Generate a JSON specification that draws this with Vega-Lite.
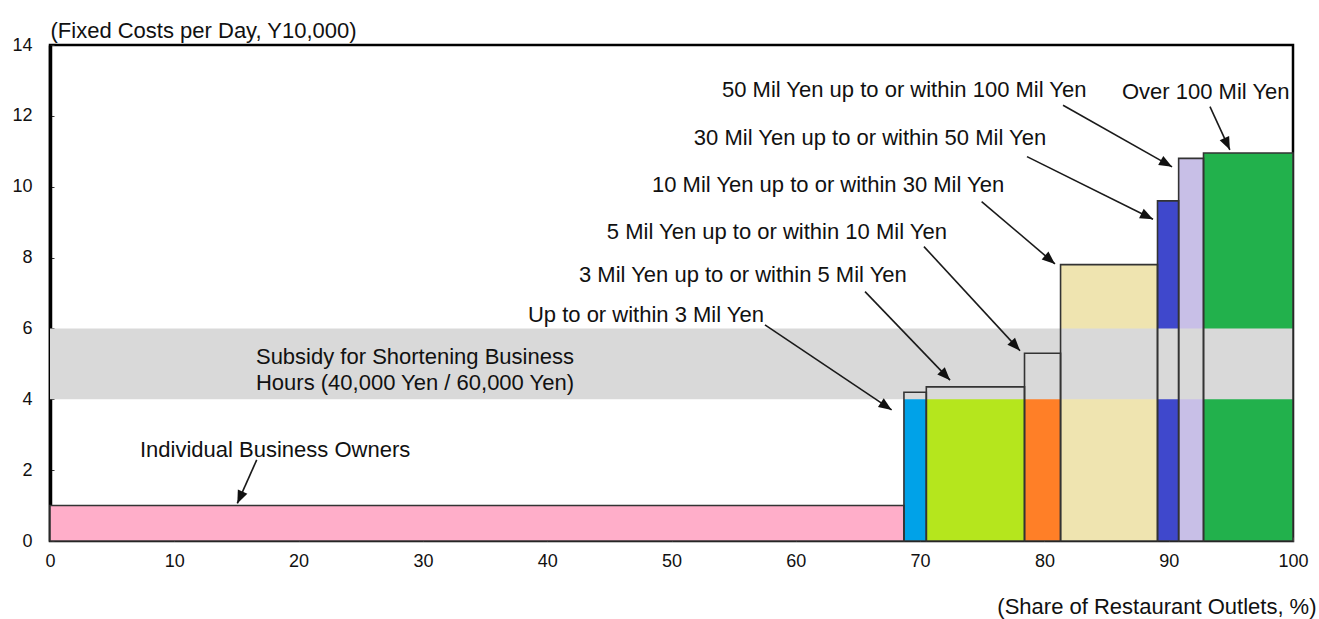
{
  "$schema": "https://vega.github.io/schema/vega-lite/v6.json",
  "width": 1243,
  "height": 496,
  "autosize": {"type": "none"},
  "padding": {"left": 50, "top": 45, "right": 26, "bottom": 78},
  "background": "white",
  "config": {
    "font": "Liberation Sans",
    "view": {"stroke": "#000", "strokeWidth": 2.5},
    "axis": {
      "grid": false,
      "domain": false,
      "labelFont": "Liberation Sans",
      "labelColor": "#111",
      "labelFontSize": 18,
      "titleFont": "Liberation Sans",
      "titleFontSize": 22,
      "titleFontWeight": "normal",
      "titleColor": "#111"
    }
  },
  "datasets": {
    "bars": [
      {"group": "Individual", "x0": 0, "x1": 68.7, "cost": 1.0},
      {"group": "to 3M", "x0": 68.7, "x1": 70.5, "cost": 4.2},
      {"group": "3M-5M", "x0": 70.5, "x1": 78.4, "cost": 4.35},
      {"group": "5M-10M", "x0": 78.4, "x1": 81.3, "cost": 5.3},
      {"group": "10M-30M", "x0": 81.3, "x1": 89.1, "cost": 7.8},
      {"group": "30M-50M", "x0": 89.1, "x1": 90.8, "cost": 9.6},
      {"group": "50M-100M", "x0": 90.8, "x1": 92.8, "cost": 10.8},
      {"group": "over 100M", "x0": 92.8, "x1": 100, "cost": 10.95}
    ],
    "band": [
      {"from": 0, "to": 100, "lo": 4, "hi": 6}
    ],
    "arrows": [
      {"tx": 16.63, "ty": 2.29, "hx": 15.07, "hy": 1.06},
      {"tx": 57.52, "ty": 6.10, "hx": 67.71, "hy": 3.70},
      {"tx": 65.57, "ty": 7.04, "hx": 72.41, "hy": 4.54},
      {"tx": 70.31, "ty": 8.31, "hx": 78.04, "hy": 5.37},
      {"tx": 74.95, "ty": 9.58, "hx": 80.85, "hy": 7.82},
      {"tx": 78.60, "ty": 10.85, "hx": 88.74, "hy": 9.08},
      {"tx": 81.50, "ty": 12.30, "hx": 90.27, "hy": 10.56},
      {"tx": 93.32, "ty": 12.26, "hx": 94.92, "hy": 11.04}
    ],
    "labels": [
      {"text": "50 Mil Yen up to or within 100 Mil Yen", "x": 54.06, "y": 12.73},
      {"text": "Over 100 Mil Yen", "x": 86.24, "y": 12.68},
      {"text": "30 Mil Yen up to or within 50 Mil Yen", "x": 51.8, "y": 11.37},
      {"text": "10 Mil Yen up to or within 30 Mil Yen", "x": 48.43, "y": 10.05},
      {"text": "5 Mil Yen up to or within 10 Mil Yen", "x": 44.8, "y": 8.73},
      {"text": "3 Mil Yen up to or within 5 Mil Yen", "x": 42.56, "y": 7.51},
      {"text": "Up to or within 3 Mil Yen", "x": 38.45, "y": 6.38},
      {"text": "Subsidy for Shortening Business", "x": 16.57, "y": 5.19},
      {"text": "Hours (40,000 Yen / 60,000 Yen)", "x": 16.57, "y": 4.46},
      {"text": "Individual Business Owners", "x": 7.24, "y": 2.57}
    ]
  },
  "layer": [
    {
      "data": {"name": "bars"},
      "mark": {"type": "rect", "strokeWidth": 0},
      "encoding": {
        "x": {
          "field": "x0", "type": "quantitative",
          "scale": {"domain": [0, 100], "nice": false},
          "axis": {
            "values": [0, 10, 20, 30, 40, 50, 60, 70, 80, 90, 100],
            "tickSize": -4, "tickColor": "#888", "tickWidth": 1,
            "labelPadding": 15,
            "labelFlush": false,
            "title": "(Share of Restaurant Outlets, %)",
            "titleAnchor": "start", "titleAlign": "right", "titleBaseline": "middle",
            "titleX": 1266, "titleY": 65
          }
        },
        "x2": {"field": "x1"},
        "y": {
          "field": "cost", "type": "quantitative",
          "scale": {"domain": [0, 14], "nice": false},
          "axis": {
            "values": [0, 2, 4, 6, 8, 10, 12, 14],
            "domain": true, "domainColor": "#000", "domainWidth": 3.5,
            "tickSize": -4, "tickColor": "#333", "tickWidth": 1,
            "labelPadding": 22,
            "labelFlush": false,
            "title": "(Fixed Costs per Day, Y10,000)",
            "titleAngle": 0, "titleAnchor": "start", "titleAlign": "left", "titleBaseline": "middle",
            "titleX": 0, "titleY": -15
          }
        },
        "y2": {"datum": 0},
        "color": {
          "field": "group", "type": "nominal", "legend": null,
          "scale": {
            "domain": ["Individual", "to 3M", "3M-5M", "5M-10M", "10M-30M", "30M-50M", "50M-100M", "over 100M"],
            "range": ["#ffaec9", "#00a2e8", "#b5e61d", "#ff7f27", "#efe4b0", "#3f48cc", "#c8bfe7", "#22b14c"]
          }
        }
      }
    },
    {
      "data": {"name": "band"},
      "mark": {"type": "rect", "color": "#d9d9d9", "opacity": 1},
      "encoding": {
        "x": {"field": "from", "type": "quantitative"},
        "x2": {"field": "to"},
        "y": {"field": "lo", "type": "quantitative"},
        "y2": {"field": "hi"}
      }
    },
    {
      "data": {"name": "bars"},
      "mark": {"type": "rect", "fillOpacity": 0, "stroke": "#333", "strokeWidth": 1.6},
      "encoding": {
        "x": {"field": "x0", "type": "quantitative"},
        "x2": {"field": "x1"},
        "y": {"field": "cost", "type": "quantitative"},
        "y2": {"datum": 0}
      }
    },
    {
      "data": {"name": "arrows"},
      "mark": {"type": "rule", "color": "#1a1a1a", "strokeWidth": 1.6},
      "encoding": {
        "x": {"field": "tx", "type": "quantitative"},
        "y": {"field": "ty", "type": "quantitative"},
        "x2": {"field": "hx"},
        "y2": {"field": "hy"}
      }
    },
    {
      "data": {"name": "arrows"},
      "transform": [
        {"calculate": "atan2((datum.hx - datum.tx) * 12.43, (datum.hy - datum.ty) * 35.43) * 180 / PI", "as": "heading"}
      ],
      "mark": {
        "type": "point",
        "shape": "M0,0L-0.4,1L0.4,1Z",
        "filled": true,
        "color": "#111",
        "opacity": 1,
        "size": 676
      },
      "encoding": {
        "x": {"field": "hx", "type": "quantitative"},
        "y": {"field": "hy", "type": "quantitative"},
        "angle": {"field": "heading", "type": "quantitative", "scale": null}
      }
    },
    {
      "data": {"name": "labels"},
      "mark": {"type": "text", "align": "left", "baseline": "middle", "fontSize": 22, "color": "#111", "font": "Liberation Sans"},
      "encoding": {
        "x": {"field": "x", "type": "quantitative"},
        "y": {"field": "y", "type": "quantitative"},
        "text": {"field": "text"}
      }
    }
  ]
}
